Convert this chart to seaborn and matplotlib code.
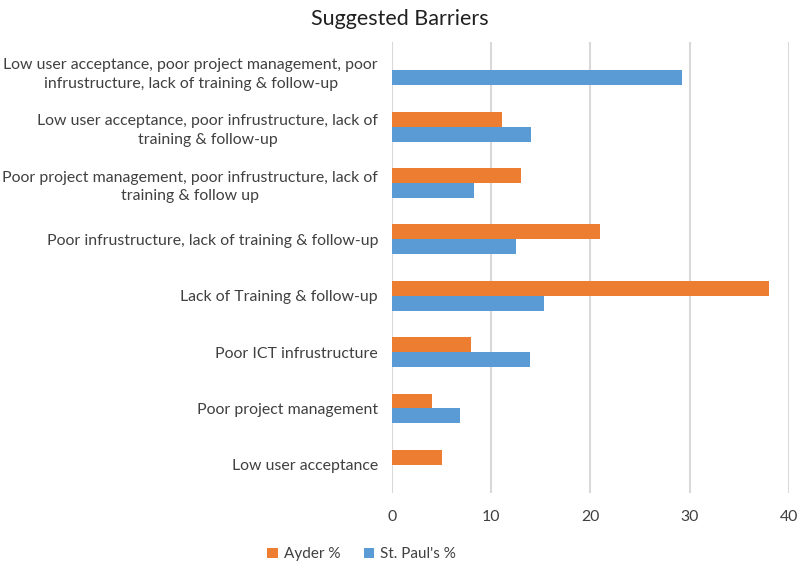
import pandas as pd
import matplotlib.pyplot as plt
import seaborn as sns

# barrier categories, top to bottom
barriers = [
    "Low user acceptance, poor project management, poor\ninfrustructure, lack of training & follow-up",
    "Low user acceptance, poor infrustructure, lack of\ntraining & follow-up",
    "Poor project management, poor infrustructure, lack of\ntraining & follow up",
    "Poor infrustructure, lack of training & follow-up",
    "Lack of Training & follow-up",
    "Poor ICT infrustructure",
    "Poor project management",
    "Low user acceptance",
]
ayder = [0, 11.1, 13.0, 21.0, 38.0, 8.0, 4.0, 5.0]
st_paul = [29.2, 14.0, 8.3, 12.5, 15.3, 13.9, 6.9, 0]
series = ["Ayder %", "St. Paul's %"]
colors = ["#ED7D31", "#5B9BD5"]

df = pd.DataFrame({
    "Barrier": barriers * 2,
    "Value": ayder + st_paul,
    "Series": [series[0]] * len(barriers) + [series[1]] * len(barriers),
})

sns.set_style("white")
plt.rcParams["font.family"] = ["Lato", "DejaVu Sans"]

fig = plt.figure(figsize=(8, 5.65), dpi=100)
ax = fig.add_axes([0.49, 0.1274, 0.496, 0.798])

sns.barplot(data=df, x="Value", y="Barrier", hue="Series", order=barriers,
            hue_order=series, palette=colors, width=0.53, saturation=1,
            linewidth=0, orient="h", ax=ax)

ax.set_xlim(0, 40)
ax.set_xticks([0, 10, 20, 30, 40])
ax.grid(axis="x", color="#d9d9d9", linewidth=1.5)
ax.set_axisbelow(True)
for s in ax.spines.values():
    s.set_visible(False)
ax.set_xlabel("")
ax.set_ylabel("")
ax.tick_params(axis="both", length=0, labelsize=11.4, colors="#404040")
ax.tick_params(axis="y", pad=10)
ax.tick_params(axis="x", pad=12)
for lbl in ax.get_yticklabels():
    lbl.set_multialignment("center")
    lbl.set_linespacing(1.45)

ax.set_title("Suggested Barriers", fontsize=15.5, color="#202020", x=0.02, pad=12)

ax.legend(loc="upper center", bbox_to_anchor=(-0.076, -0.09), ncol=2, frameon=False,
          fontsize=11, handlelength=0.7, handleheight=0.7, handletextpad=0.4,
          columnspacing=1.5, labelcolor="#404040")

fig.savefig("out.png", dpi=100)
